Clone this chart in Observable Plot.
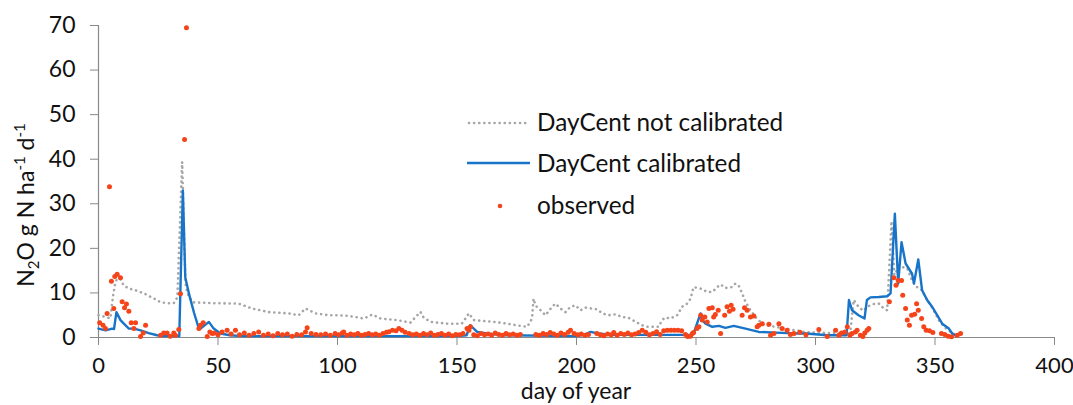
<!DOCTYPE html>
<html><head><meta charset="utf-8">
<script src="https://cdn.jsdelivr.net/npm/d3@7"></script>
<script src="https://cdn.jsdelivr.net/npm/@observablehq/plot@0.6"></script>
<style>
body{margin:0;background:#fff;}
#wrap{position:relative;width:1073px;height:405px;overflow:hidden;font-family:Lato,"Open Sans",sans-serif;color:#111;}
#ylab{position:absolute;left:26px;top:205px;transform:translate(-50%,-50%) rotate(-90deg);white-space:nowrap;font-size:23px;}
#ylab sub,#ylab sup{font-size:15px;}
#xlab{position:absolute;left:576px;top:390px;transform:translate(-50%,-50%);white-space:nowrap;font-size:23px;line-height:1;}
#legend{position:absolute;left:0;top:0;}
</style></head>
<body><div id="wrap"></div>
<script>
// DayCent not calibrated: [day, N2O]
const notCalibrated = [[0,5.0],[3,4.6],[5,4.3],[6,9.0],[7,12.2],[8.4,14.0],[10.5,11.7],[12.6,11.0],[15.5,10.6],[19,9.9],[23,8.8],[26,7.9],[29,7.7],[31.5,7.7],[33,9.0],[35,39.4],[36.4,12.1],[37.2,9.9],[39.3,7.9],[48,7.7],[58.7,7.6],[64.3,6.5],[71.3,5.7],[79.6,5.4],[83.8,5.0],[86.6,6.5],[90.8,5.4],[96.4,5.0],[99.2,5.0],[104.7,4.85],[111,4.25],[114.5,5.15],[118,4.25],[125,3.9],[130.5,3.35],[134.7,5.75],[136,4.5],[139,3.5],[145.9,3.1],[152,3.1],[155,5.4],[157,3.9],[165.4,3.5],[171,3.1],[176.6,2.6],[179.4,2.4],[181.4,4.25],[182,8.7],[182.8,7.2],[185,6.1],[187,5.0],[189.8,6.9],[191.2,7.6],[193.3,6.5],[195.4,5.7],[197.5,6.9],[199.6,7.2],[201.7,6.1],[203.8,6.7],[208.8,6.3],[210.8,5.4],[213.5,5.0],[216.3,5.2],[219,4.6],[221.9,4.4],[224.7,3.5],[227.5,2.75],[229.6,2.4],[234.4,2.4],[235.8,3.9],[237.2,4.5],[239.3,4.25],[242.1,5.0],[244.2,6.9],[246.3,7.6],[247.7,8.7],[249,11.3],[251.9,11.0],[254.7,10.2],[256.8,10.2],[258.9,11.3],[260.3,11.9],[262.3,11.1],[265.1,11.3],[266.5,12.1],[267.9,11.6],[269.3,9.9],[270.7,8.0],[272.8,6.1],[274.9,4.6],[277.7,3.1],[279,2.75],[283.3,2.4],[287.4,2.0],[291.6,1.6],[296,1.2],[305,1.0],[314.5,1.0],[316,8.4],[318,6.9],[320,6.0],[322,7.0],[324.4,7.5],[326.5,7.6],[328.6,6.5],[330,6.1],[331.8,26.1],[333,14],[335,16],[338.4,15.5],[340.4,12.8],[342,11.5],[344.6,10.6],[346.7,8.4],[349,6.5],[352,3.5],[355,1.8],[358,0.8],[360,0.4]];

// DayCent calibrated: [day, N2O]
const calibrated = [[0,2.0],[3,1.6],[5.7,2.0],[6.5,1.9],[7.5,5.7],[9.2,3.9],[10.6,3.1],[12.7,2.0],[14.8,2.0],[17.6,1.6],[21,1.0],[24.5,0.5],[27.3,0.3],[33.8,0.3],[35.3,33.0],[36.3,13.5],[38,9.5],[40,5.5],[42,2.0],[42.7,2.0],[46.2,3.5],[48.2,2.0],[51,0.9],[55,0.5],[60,0.3],[150,0.3],[154,0.5],[155.6,2.75],[158.4,1.25],[162.6,0.9],[170,0.5],[200,0.3],[203,0.6],[205.9,1.25],[209,0.9],[215,0.6],[248,0.6],[249,0.9],[251.9,5.4],[252.6,3.9],[254,3.1],[256.8,2.4],[259.6,2.6],[262.3,2.15],[265.8,2.6],[270.7,2.0],[276.3,1.25],[283.3,1.1],[293,0.9],[296,0.9],[305,0.5],[313,0.5],[314,8.4],[315.3,6.1],[318,5.0],[320.5,4.25],[321.5,8.4],[323,9.0],[326.5,9.1],[330,9.25],[331.4,9.9],[333.2,27.8],[334.6,12.1],[336,21.4],[337.7,16.6],[340.4,14.3],[341.2,12.1],[343,17.5],[344.6,10.6],[346.7,8.4],[348.8,6.9],[350.9,5.0],[353,3.1],[355.8,2.0],[357.2,0.9],[359,0.3]];

// observed: [day, N2O]
const observed = [[0.5,3.3],[1.9,2.75],[2.9,2.0],[3.6,5.4],[4.6,33.8],[5.4,12.6],[6.4,6.5],[6.8,13.7],[7.8,14.2],[9.2,13.4],[9.9,8.0],[10.9,6.7],[11.7,7.5],[12.7,5.9],[13.7,3.3],[14.8,2.0],[15.5,3.3],[17.6,0.2],[18.7,1.0],[19.7,2.75],[26,0.5],[27.3,1.0],[28.7,1.0],[30,0.3],[31.5,1.0],[32.2,0.5],[33.6,1.8],[34.3,9.8],[36,44.4],[36.8,69.5],[42,2.0],[42.7,2.75],[43.8,3.3],[45.5,0.2],[46.6,1.25],[47.6,0.9],
[48.5,1.0],[50,0.6],[51.7,1.25],[53.8,1.6],[55.5,0.8],[57.3,1.6],[59,0.6],[61,1.0],[63,0.5],[65,0.9],[67,1.25],[69,0.5],[71,0.8],[73,0.4],[75,0.9],[77,0.6],[79,0.8],[81,0.3],[83,0.7],[85,0.6],[86.6,1.25],[87.3,2.2],[89,0.9],[91,0.7],[93,0.6],[95,0.8],[97,0.5],[99,0.9],
[100.5,0.6],[102,1.0],[102.6,1.25],[104,0.5],[105.5,0.8],[107,0.6],[108.5,0.9],[110,0.5],[111.5,0.7],[113,0.9],[114.5,0.6],[116,0.8],[117.5,0.5],[119,0.9],[120.5,1.2],[121.5,1.3],[123,1.6],[124.5,1.5],[125.7,2.0],[127,1.6],[128.3,1.2],[130,0.9],[131.5,0.6],[133,0.8],[134.5,0.5],[136,0.9],[137.5,0.6],[139,1.0],[140.5,0.5],[142,0.7],[143.5,0.9],[145,0.5],[146.5,0.8],[148,0.4],[149.5,0.7],[151,0.6],[152.5,0.9],[154.2,2.0],[155,1.6],[155.6,2.4],[157,0.6],[158.5,0.4],[160,0.9],[161.5,0.6],[163,0.8],[164.5,0.5],[166,1.0],[167.5,0.7],[169,0.5],[170.5,0.9],[172,0.6],[173.5,0.8],[175,0.5],[176.5,0.7],
[183,0.7],[184.5,0.5],[186,0.9],[187.5,0.7],[189,1.1],[190.5,0.8],[192,0.5],[193.5,1.0],[195,0.7],[196.5,1.2],[197.5,1.6],[199,0.9],[200.5,0.6],[202,0.8],[203.5,0.5],[205,0.7],[208.5,0.9],[210,0.6],[211.5,0.4],[213,0.8],[214.5,0.6],[215.6,1.1],[217,0.5],[218.5,0.9],[220,0.7],[221.5,1.0],[223,0.6],[224.5,0.8],[226,1.1],[227.5,1.6],[229,1.2],[230.5,0.6],[232,0.9],[233.5,1.3],[235,0.7],[236.5,1.5],[238,1.6],[239.5,1.6],[241,1.6],[242.5,1.6],[244,1.5],[245.6,0.7],[246.5,0.2],[247.7,0.3],[248.5,0.9],
[249,1.1],[250.4,2.0],[251.2,2.4],[252,5.0],[252.6,3.9],[253.7,4.6],[254.7,3.5],[255.4,6.5],[256.8,6.65],[257.4,4.6],[258.1,5.15],[259.3,6.1],[260.3,0.9],[262,5.0],[263,6.9],[264,5.9],[264.7,7.25],[265.5,6.35],[269.3,5.0],[270.3,6.65],[271.4,6.1],[272.8,4.6],[274.2,4.8],[275.6,2.4],[276.3,2.75],[277.7,3.1],[280.5,3.0],[281.2,0.5],[282.6,0.9],[284.7,3.1],[286,2.0],[288.1,1.6],[289.5,0.7],[291,0.9],[293.5,1.2],[296,0.6],
[301.4,1.8],[304.9,0.2],[308.4,1.6],[309.8,0.5],[310.9,1.0],[312.3,1.25],[313.3,2.4],[314.4,0.5],[315.3,0.9],[316.7,1.25],[317.4,1.6],[318.8,0.5],[319.8,0.2],[320.6,1.0],[321.6,1.6],[322.3,2.0],[330.9,8.0],[332.8,13.4],[333.7,11.7],[334.6,12.8],[336,12.8],[336.5,9.5],[337.7,6.5],[338.4,3.9],[339.3,2.75],[340.2,5.0],[341.5,5.2],[342.3,7.6],[343,6.1],[344.4,4.25],[345.3,2.4],[346.3,1.6],[347.7,1.5],[349.1,1.1],[352.7,0.9],[354.1,0.7],[355.5,0.3],[356.9,0.15],[359.3,0.5],[360.7,0.9]];

const xTicks = [0,50,100,150,200,250,300,350,400];
const yTicks = [0,10,20,30,40,50,60,70];
const seriesNames = ["DayCent not calibrated","DayCent calibrated","observed"];
const colors = {gray:"#a6a6a6", blue:"#1874c8", orange:"#f5441a", axis:"#898989"};

const chart = Plot.plot({
  width:1073, height:405,
  marginLeft:98, marginRight:19, marginTop:25, marginBottom:68,
  style:{fontFamily:"Lato, 'Open Sans', sans-serif", fontSize:"23px", color:"#111", background:"white"},
  x:{domain:[0,400]},
  y:{domain:[0,70]},
  marks:[
    Plot.axisX({ticks:xTicks, tickSize:8, tickPadding:12, stroke:colors.axis, fill:"#111", fontSize:22, label:null}),
    Plot.axisY({ticks:yTicks, tickSize:8, tickPadding:15, stroke:colors.axis, fill:"#111", fontSize:23, label:null}),
    Plot.ruleY([0], {stroke:colors.axis, strokeWidth:1.2}),
    Plot.ruleX([0], {stroke:colors.axis, strokeWidth:1.2}),
    Plot.line(notCalibrated, {x:d=>d[0], y:d=>d[1], stroke:colors.gray, strokeWidth:2.6, strokeDasharray:"0.1,5", strokeLinecap:"round"}),
    Plot.line(calibrated, {x:d=>d[0], y:d=>d[1], stroke:colors.blue, strokeWidth:2.4}),
    Plot.dot(observed, {x:d=>d[0], y:d=>d[1], r:2.5, fill:colors.orange})
  ]
});
const wrap = document.getElementById("wrap");
wrap.appendChild(chart);

const ylab = document.createElement("div");
ylab.id = "ylab";
ylab.innerHTML = "N<sub>2</sub>O g N ha<sup>-1</sup> d<sup>-1</sup>";
wrap.appendChild(ylab);

const xlab = document.createElement("div");
xlab.id = "xlab";
xlab.textContent = "day of year";
wrap.appendChild(xlab);

// legend overlay
const ns = "http://www.w3.org/2000/svg";
const leg = document.createElementNS(ns, "svg");
leg.setAttribute("id","legend");
leg.setAttribute("width","1073"); leg.setAttribute("height","405");
leg.innerHTML = `
 <line x1="469" x2="528" y1="123" y2="123" stroke="${colors.gray}" stroke-width="2.6" stroke-dasharray="0.1,5" stroke-linecap="round"/>
 <line x1="467" x2="530" y1="163" y2="163" stroke="${colors.blue}" stroke-width="2.4"/>
 <circle cx="500" cy="206" r="2.3" fill="${colors.orange}"/>
 <g font-family="Lato, 'Open Sans', sans-serif" font-size="24.3" fill="#111">
  <text x="537" y="131">${seriesNames[0]}</text>
  <text x="537" y="172">${seriesNames[1]}</text>
  <text x="537" y="214">${seriesNames[2]}</text>
 </g>`;
wrap.appendChild(leg);
</script>
</body></html>
